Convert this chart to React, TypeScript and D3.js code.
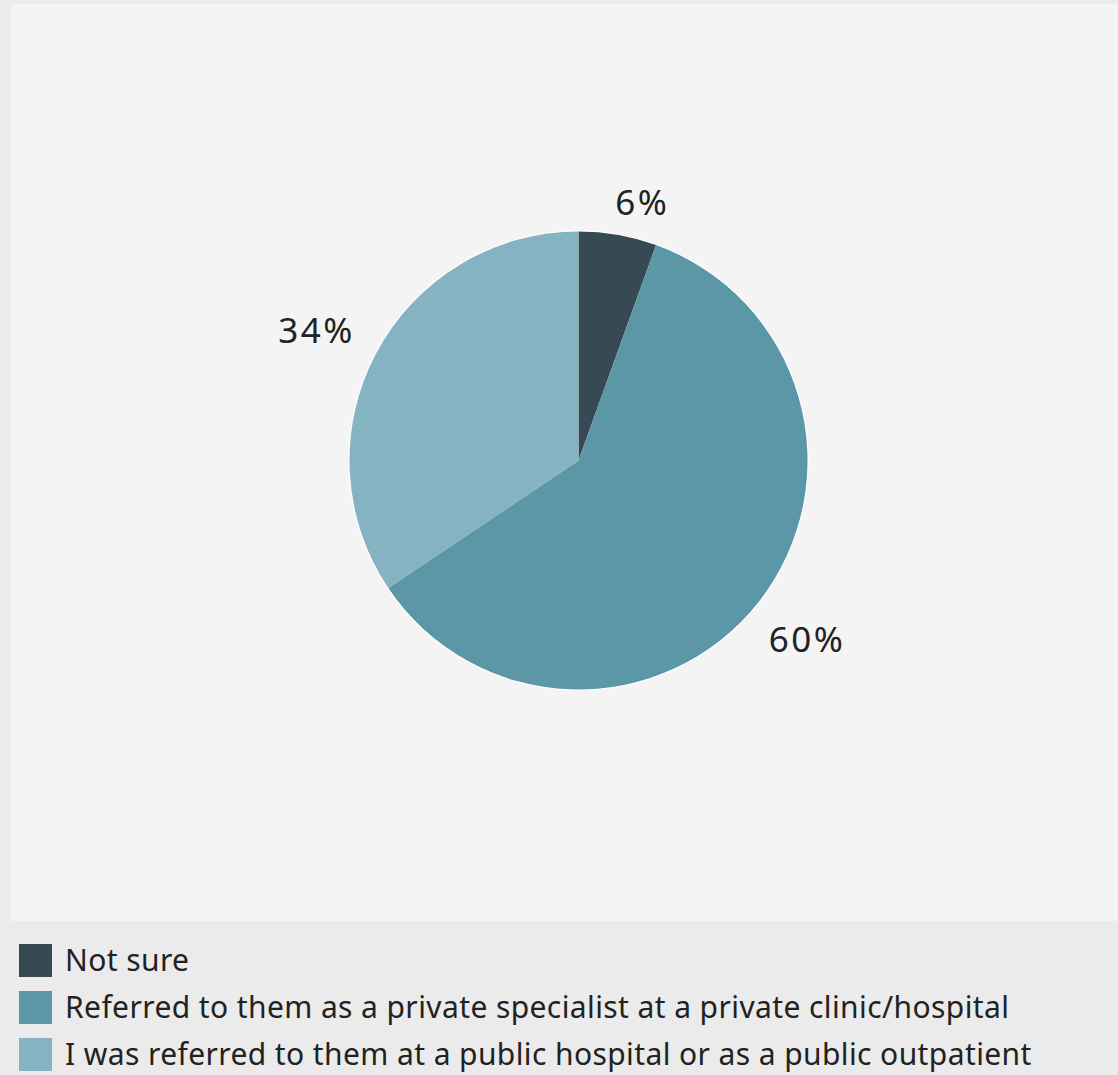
import React from "react";
import * as d3 from "d3";

const categories = [
  "Not sure",
  "Referred to them as a private specialist at a private clinic/hospital",
  "I was referred to them at a public hospital or as a public outpatient",
];
const shares = [5.5, 60.1, 34.4];
const colors = ["#374a54", "#5c97a8", "#85b3c2"];

const W = 1118;
const H = 1075;
const cx = 578.5;
const cy = 460.5;
const R = 229;
const FONT = "'Noto Sans', 'Open Sans', sans-serif";

export default function App() {
  const pie = d3.pie<number>().sort(null).value((d) => d)(shares);
  const arc = d3.arc<d3.PieArcDatum<number>>().innerRadius(0).outerRadius(R);
  const labelR = R + 20;
  const labelSize = 35;
  const fmt = (v: number) => `${Math.round(v)}%`;

  return (
    <svg
      width={W}
      height={H}
      style={{ position: "absolute", left: 0, top: 0, display: "block" }}
    >
      <rect x={0} y={0} width={W} height={H} fill="#ebebeb" />
      <rect x={11} y={4} width={W - 11} height={917} fill="#f4f4f4" />
      <g transform={`translate(${cx},${cy})`}>
        <circle r={R + 1} fill="#ffffff" />
        {pie.map((d, i) => (
          <path key={i} d={arc(d) || ""} fill={colors[i]} />
        ))}
        {pie.map((d, i) => {
          const a = (d.startAngle + d.endAngle) / 2;
          const right = Math.sin(a) >= 0;
          const below = Math.cos(a) < 0;
          const px = labelR * Math.sin(a) + (right ? -6 : -4);
          const py = -labelR * Math.cos(a);
          return (
            <text
              key={"l" + i}
              x={px}
              y={below ? py + labelSize * 1.1 : py}
              textAnchor={right ? "start" : "end"}
              fontFamily={FONT}
              fontSize={labelSize}
              letterSpacing={2.5}
              fill="#222"
            >
              {fmt(d.data)}
            </text>
          );
        })}
      </g>
      <g transform="translate(19,944)">
        {categories.map((c, i) => (
          <g key={c} transform={`translate(0,${i * 47})`}>
            <rect width={33} height={33} fill={colors[i]} />
            <text
              x={46}
              y={27}
              fontFamily={FONT}
              fontSize={30}
              letterSpacing={0.4}
              fill="#222"
            >
              {c}
            </text>
          </g>
        ))}
      </g>
    </svg>
  );
}
